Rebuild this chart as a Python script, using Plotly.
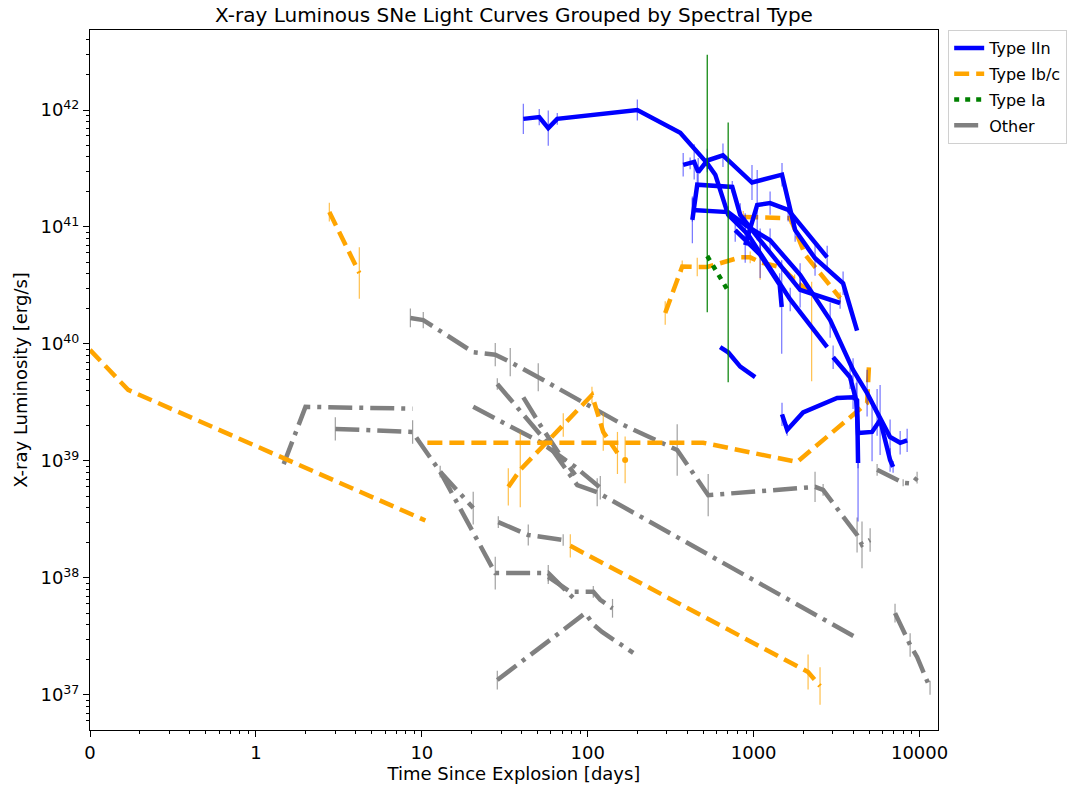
import math
import plotly.graph_objects as go

# ---------------- Data (days since explosion, X-ray luminosity erg/s, error half-width in dex) ----------------
# Type IIn
iin_a_days = [40.9, 51.0, 57.8, 65.5, 199, 361, 525, 587, 702, 927, 1660, 2773]
iin_a_lum = [8.4e41, 8.7e41, 7.0e41, 8.4e41, 1.0e42, 6.4e41, 3.5e41, 2.8e41, 1.27e41, 8.6e40, 2.4e40, 9.4e39]
iin_a_err = [0.13, 0.07, 0.15, 0.05, 0.09, 0, 0.05, 0, 0, 0.1, 0.1, 0]

iin_b_days = [376, 414, 438, 463, 525, 653, 977, 1482, 1778, 2344, 3459, 4200]
iin_b_lum = [3.4e41, 3.5e41, 3.6e41, 2.95e41, 3.7e41, 4.1e41, 2.4e41, 2.8e41, 9.4e40, 5.4e40, 3.3e40, 1.3e40]
iin_b_err = [0.1, 0.05, 0.15, 0.12, 0.1, 0.1, 0.15, 0.1, 0.1, 0.15, 0.1, 0]

iin_c_days = [427, 457, 743, 830, 1094, 1905, 3319]
iin_c_lum = [1.15e41, 2.3e41, 2.2e41, 1.27e41, 7.7e40, 2.9e40, 2.24e40]
iin_c_err = [0.2, 0.1, 0.05, 0.1, 0.1, 0.15, 0.05]

iin_d_days = [427, 702, 889, 1256, 1905, 2891, 3972, 4827, 5546, 6642, 7636, 8414]
iin_d_lum = [1.4e41, 1.34e41, 1.04e41, 7.7e40, 3.9e40, 1.6e40, 6.0e39, 3.8e39, 2.6e39, 1.6e39, 1.43e39, 1.5e39]
iin_d_err = [0.1, 0.05, 0.1, 0.1, 0.1, 0.15, 0.1, 0.2, 0.2, 0.15, 0.1, 0.1]

iin_e_days = [889, 1050, 1256, 1614, 2773]
iin_e_lum = [7.0e40, 1.54e41, 1.6e41, 1.4e41, 5.5e40]
iin_e_err = [0.15, 0.3, 0.1, 0.1, 0.1]

iin_f_days = [774, 1094, 1435, 1476]
iin_f_lum = [9.4e40, 5.8e40, 3.2e40, 2.07e40]
iin_f_err = [0.1, 0.2, 0.1, 0.4]

iin_g_days = [628, 702, 830, 1021]
iin_g_lum = [9.4e39, 8.5e39, 6.4e39, 5.2e39]
iin_g_err = [0, 0, 0, 0]

iin_h_days = [1482, 1592, 1986, 3186, 3972, 4200, 4258]
iin_h_lum = [2.5e39, 1.84e39, 2.6e39, 3.45e39, 3.5e39, 3.3e39, 9.6e38]
iin_h_err = [0.1, 0.05, 0, 0, 0.1, 0.2, 0.5]

iin_i_days = [3013, 3811, 4150, 4258, 5171, 5781, 6642, 6924]
iin_i_lum = [7.7e39, 5.2e39, 3.3e39, 1.73e39, 1.77e39, 2.24e39, 1.02e39, 8.9e38]
iin_i_err = [0.1, 0.1, 0.15, 0.3, 0.25, 0.3, 0.1, 0.05]

# Type Ib/c
ibc_a_days = [0.0, 0.23, 10.5]
ibc_a_lum = [8.9e39, 4.05e39, 3.1e38]
ibc_a_err = [0, 0, 0]

ibc_b_days = [2.77, 4.2]
ibc_b_lum = [1.34e41, 4.05e40]
ibc_b_err = [0.08, 0.22]

ibc_c_days = [10.8, 497, 1828, 4830, 4966]
ibc_c_lum = [1.43e39, 1.43e39, 9.8e38, 3.13e39, 7.0e39]
ibc_c_err = [0, 0, 0, 0, 0]

ibc_d_days = [33.2, 39.2, 71.2, 106, 124, 151]
ibc_d_lum = [6.0e38, 8.4e38, 2.03e39, 3.66e39, 1.77e39, 1.17e39]
ibc_d_err = [0.16, 0.32, 0.1, 0.07, 0.16, 0.18]

ibc_e_days = [168]
ibc_e_lum = [1.02e39]
ibc_e_err = [0.2]

ibc_f_days = [78.5, 2128, 2512]
ibc_f_lum = [1.88e38, 1.57e37, 1.19e37]
ibc_f_err = [0.1, 0.15, 0.16]

ibc_g_days = [293, 327, 371, 457, 525, 830, 953, 1094, 1476, 1766, 2236]
ibc_g_lum = [1.84e40, 2.9e40, 4.6e40, 4.55e40, 4.55e40, 5.5e40, 5.5e40, 5.0e40, 4.5e40, 3.5e40, 2.7e40]
ibc_g_err = [0.1, 0, 0.05, 0.08, 0, 0, 0.05, 0.15, 0, 0.05, (0.75, 0.1)]

ibc_h_days = [865, 1660, 2042, 3319]
ibc_h_lum = [1.22e41, 1.19e41, 5.8e40, 2.47e40]
ibc_h_err = [0.05, 0.05, 0, 0.05]

# Type Ia
ia_a_days = [525, 702]
ia_a_lum = [5.65e40, 2.84e40]
ia_a_err = [(0.48, 1.72), (0.78, 1.44)]

# Other
oth_a_days = [8.53, 10.2, 20.4, 27.7, 34.1, 50.3, 164, 346, 532, 2344, 2622, 4200, 4497, 5034]
oth_a_lum = [1.67e40, 1.6e40, 8.5e39, 8.1e39, 7.0e39, 5.2e39, 2.03e39, 1.24e39, 5.1e38, 6.0e38, 5.65e38, 2.33e38, 1.92e38, 2.11e38]
oth_a_err = [0.08, 0.07, 0, 0.1, 0.12, 0.12, 0, 0.22, 0.18, 0.13, 0.05, 0.15, 0.2, 0.1]

oth_b_days = [1.47, 1.99, 8.8]
oth_b_lum = [9.4e38, 2.9e39, 2.8e39]
oth_b_err = [0, 0, 0]

oth_c_days = [3.01, 8.8, 9.5, 12.9, 27.7, 57.8, 84]
oth_c_lum = [1.88e39, 1.77e39, 1.5e39, 8.1e38, 1.1e38, 1.1e38, 6.5e37]
oth_c_err = [0.1, 0.1, 0, 0, 0.14, 0.07, 0]

oth_d_days = [28.9, 43.8, 71.1]
oth_d_lum = [3.0e38, 2.33e38, 2.11e38]
oth_d_err = [0.05, 0.09, 0.05]

oth_e_days = [28.5, 57.0, 86.5, 114, 4083]
oth_e_lum = [4.55e39, 1.43e39, 6.2e38, 5.4e38, 3.13e37]
oth_e_err = [0.05, 0.05, 0, 0.12, 0]

oth_f_days = [20.4, 51.7, 84, 119]
oth_f_lum = [2.9e39, 1.45e39, 8.9e38, 5.9e38]
oth_f_err = [0, 0, 0, 0.1]

oth_g_days = [40.9, 51.7, 68.3, 84]
oth_g_lum = [3.5e39, 2.03e39, 1.12e39, 7.6e38]
oth_g_err = [0, 0, 0, 0]

oth_h_days = [7112, 8770, 9660, 11560]
oth_h_lum = [5.0e37, 2.67e37, 2.11e37, 1.15e37]
oth_h_err = [0.08, 0.1, 0, 0.06]

oth_i_days = [5546, 7960, 9020, 9660]
oth_i_lum = [8.4e38, 6.5e38, 6.4e38, 7.2e38]
oth_i_err = [0.05, 0.03, 0, 0.05]

oth_j_days = [28.5, 96.6, 108, 122, 188]
oth_j_lum = [1.34e37, 5.0e37, 4.0e37, 3.45e37, 2.29e37]
oth_j_err = [0.08, 0, 0, 0, 0]

oth_k_days = [12.9, 20.4]
oth_k_lum = [8.1e38, 3.96e38]
oth_k_err = [0.05, 0.14]

oth_l_days = [57.8, 78.5, 108, 119, 141]
oth_l_lum = [1.02e38, 7.6e37, 7.6e37, 6.5e37, 5.5e37]
oth_l_err = [0.06, 0, 0.05, 0, 0.08]

group_names = ["Type IIn", "Type Ib/c", "Type Ia", "Other"]
x_tick_labels = ["0", "1", "10", "100", "1000", "10000"]
y_tick_exponents = [37, 38, 39, 40, 41, 42]

# ---------------- Styling ----------------
styles = {
    "Type IIn": dict(color="#0000ff", dash="solid", err="rgba(0,0,255,0.55)"),
    "Type Ib/c": dict(color="#ffa500", dash="15px,7px", err="rgba(255,165,0,0.7)"),
    "Type Ia": dict(color="#008000", dash="5px,6px", err="#008000"),
    "Other": dict(color="#808080", dash="24px,7px,4px,7px", err="rgba(128,128,128,0.75)"),
}

series = [
    ("Other", oth_a_days, oth_a_lum, oth_a_err),
    ("Other", oth_b_days, oth_b_lum, oth_b_err),
    ("Other", oth_c_days, oth_c_lum, oth_c_err),
    ("Other", oth_d_days, oth_d_lum, oth_d_err),
    ("Other", oth_e_days, oth_e_lum, oth_e_err),
    ("Other", oth_f_days, oth_f_lum, oth_f_err),
    ("Other", oth_g_days, oth_g_lum, oth_g_err),
    ("Other", oth_h_days, oth_h_lum, oth_h_err),
    ("Other", oth_i_days, oth_i_lum, oth_i_err),
    ("Other", oth_j_days, oth_j_lum, oth_j_err),
    ("Other", oth_k_days, oth_k_lum, oth_k_err),
    ("Other", oth_l_days, oth_l_lum, oth_l_err),
    ("Type Ib/c", ibc_a_days, ibc_a_lum, ibc_a_err),
    ("Type Ib/c", ibc_b_days, ibc_b_lum, ibc_b_err),
    ("Type Ib/c", ibc_c_days, ibc_c_lum, ibc_c_err),
    ("Type Ib/c", ibc_d_days, ibc_d_lum, ibc_d_err),
    ("Type Ib/c", ibc_e_days, ibc_e_lum, ibc_e_err),
    ("Type Ib/c", ibc_f_days, ibc_f_lum, ibc_f_err),
    ("Type Ib/c", ibc_g_days, ibc_g_lum, ibc_g_err),
    ("Type Ib/c", ibc_h_days, ibc_h_lum, ibc_h_err),
    ("Type IIn", iin_a_days, iin_a_lum, iin_a_err),
    ("Type IIn", iin_b_days, iin_b_lum, iin_b_err),
    ("Type IIn", iin_c_days, iin_c_lum, iin_c_err),
    ("Type IIn", iin_d_days, iin_d_lum, iin_d_err),
    ("Type IIn", iin_e_days, iin_e_lum, iin_e_err),
    ("Type IIn", iin_f_days, iin_f_lum, iin_f_err),
    ("Type IIn", iin_g_days, iin_g_lum, iin_g_err),
    ("Type IIn", iin_h_days, iin_h_lum, iin_h_err),
    ("Type IIn", iin_i_days, iin_i_lum, iin_i_err),
    ("Type Ia", ia_a_days, ia_a_lum, ia_a_err),
]


def symlog(x):
    # symmetric-log style time axis: linear below 1 day, logarithmic above
    return x if x <= 1 else 1 + math.log10(x)


fig = go.Figure()
shown = set()
for name, days, lum, err in series:
    st = styles[name]
    up, dn = [], []
    for y, e in zip(lum, err):
        if isinstance(e, tuple):
            d_dn, d_up = e
        else:
            d_dn = d_up = e
        up.append(y * (10 ** d_up - 1))
        dn.append(y * (1 - 10 ** (-d_dn)))
    single = len(days) == 1
    fig.add_trace(go.Scatter(
        x=[symlog(d) for d in days], y=lum,
        mode="markers" if single else "lines",
        name=name, legendgroup=name,
        showlegend=name not in shown,
        legendrank=group_names.index(name) + 1,
        line=dict(color=st["color"], width=4.5, dash=st["dash"]),
        marker=dict(color=st["color"], size=6),
        error_y=dict(type="data", symmetric=False, array=up, arrayminus=dn,
                     color=st["err"], thickness=1.2, width=0),
    ))
    shown.add(name)

x_major = [0, 1, 2, 3, 4, 5]
x_minor = [d + math.log10(k) for d in range(0, 6) for k in range(2, 10) if d + math.log10(k) <= 5.11]
y_major = [10.0 ** e for e in y_tick_exponents]
y_minor = [k * 10.0 ** e for e in range(36, 43) for k in range(2, 10) if 36.7 <= e + math.log10(k) <= 42.68]

font_family = "DejaVu Sans"
fig.update_layout(
    width=1090, height=785,
    paper_bgcolor="white", plot_bgcolor="white",
    margin=dict(l=82, r=160, t=22, b=63),
    font=dict(family=font_family, color="black"),
    title=dict(text="X-ray Luminous SNe Light Curves Grouped by Spectral Type",
               x=(82 + 930) / 2 / 1090, xanchor="center", y=1.0, yanchor="top",
               pad=dict(t=0, b=0, l=0, r=0),
               font=dict(size=20, family=font_family, color="black")),
    showlegend=True,
    legend=dict(x=1.012, y=1.0, xanchor="left", yanchor="top",
                bgcolor="white", bordercolor="#d0d0d0", borderwidth=1,
                font=dict(size=16, family=font_family, color="black"),
                itemwidth=30, tracegroupgap=2),
)
fig.update_xaxes(
    range=[0, 5.111], tickmode="array", tickvals=x_major, ticktext=x_tick_labels,
    showgrid=False, zeroline=False, showline=True, mirror=True, linecolor="black", linewidth=1,
    ticks="outside", ticklen=6, tickcolor="black", tickfont=dict(size=18),
    minor=dict(tickvals=x_minor, ticks="outside", ticklen=3, tickcolor="black", showgrid=False),
    title=dict(text="Time Since Explosion [days]", font=dict(size=18), standoff=4),
)
fig.update_yaxes(
    type="log", range=[36.70, 42.684], tickmode="array", tickvals=y_major,
    ticktext=[f"10<sup>{e}</sup>" for e in y_tick_exponents],
    showgrid=False, zeroline=False, showline=True, mirror=True, linecolor="black", linewidth=1,
    ticks="outside", ticklen=6, tickcolor="black", tickfont=dict(size=18),
    minor=dict(tickvals=y_minor, ticks="outside", ticklen=3, tickcolor="black", showgrid=False),
    title=dict(text="X-ray Luminosity [erg/s]", font=dict(size=18), standoff=8),
)

fig.write_html("out.html")
